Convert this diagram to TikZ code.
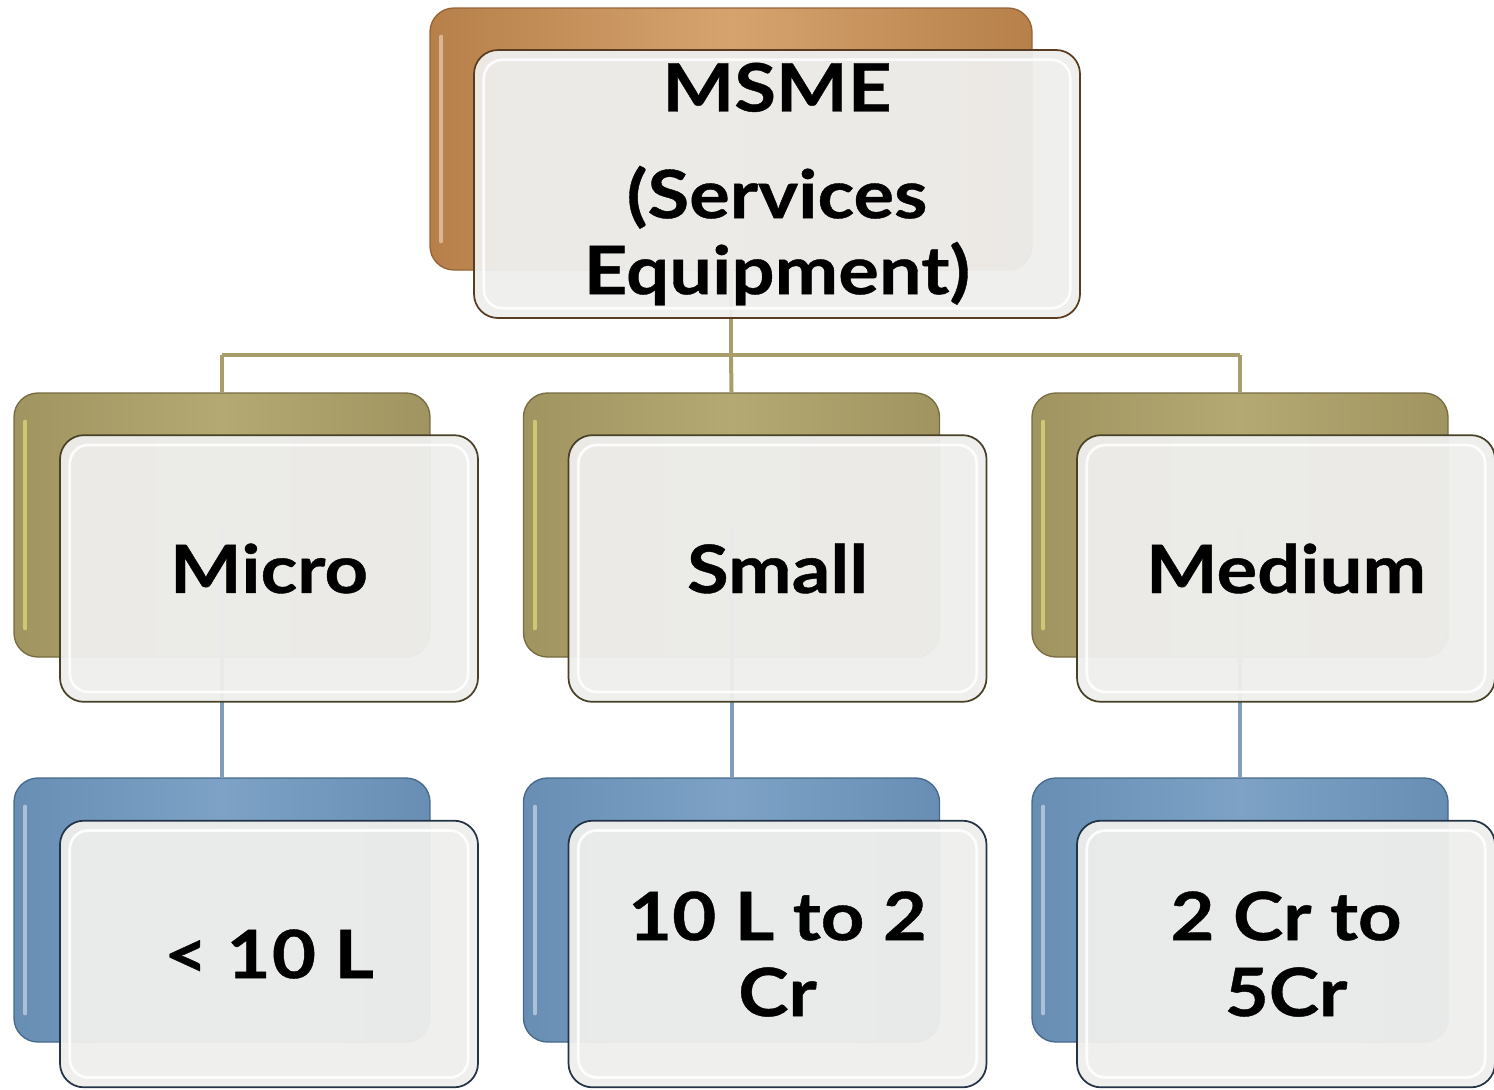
\documentclass[tikz,border=0pt]{standalone}
\usepackage{fontspec}
\setmainfont{Lato}[BoldFeatures={FakeStretch=1.14,FakeBold=0.6}]
\definecolor{brL}{RGB}{183,128,74}
\definecolor{brM}{RGB}{214,163,110}
\definecolor{brD}{RGB}{150,100,55}
\definecolor{olL}{RGB}{160,148,96}
\definecolor{olM}{RGB}{180,168,115}
\definecolor{olD}{RGB}{120,108,65}
\definecolor{blL}{RGB}{104,142,180}
\definecolor{blM}{RGB}{125,162,198}
\definecolor{blD}{RGB}{70,105,140}
\definecolor{olLine}{RGB}{168,158,108}
\definecolor{blLine}{RGB}{128,158,188}
\definecolor{frontFill}{RGB}{238,238,236}
\begin{document}
\begin{tikzpicture}[x=0.75pt,y=-0.75pt,
  backbox/.style={rectangle,rounded corners=18pt,line width=1pt,
     minimum width=312pt,minimum height=198pt,inner sep=0pt},
  brownback/.style={backbox,draw=brD,left color=brL,right color=brL,middle color=brM},
  oliveback/.style={backbox,draw=olD,left color=olL,right color=olL,middle color=olM},
  blueback/.style={backbox,draw=blD,left color=blL,right color=blL,middle color=blM},
  frontbox/.style={rectangle,rounded corners=18pt,line width=1.3pt,fill=frontFill,
     fill opacity=0.96,text opacity=1,minimum width=313.5pt,minimum height=200pt,
     inner sep=0pt,align=center,font=\fontsize{50}{57}\selectfont\bfseries},
  glint/.style={line width=3pt,line cap=round,opacity=0.6},
  inner/.style={draw=white,line width=2pt,rounded corners=14pt,opacity=0.9},
  olconn/.style={draw=olLine,line width=3pt},
  blconn/.style={draw=blLine,line width=3pt}]
\useasboundingbox (0,0) rectangle (1494,1089);

% back boxes
\node[brownback,minimum width=451.5pt,minimum height=196.5pt] (tb) at (731,139) {};
\node[oliveback] (mb1) at (222,525) {};
\node[oliveback] (mb2) at (731.5,525) {};
\node[oliveback] (mb3) at (1240,525) {};
\node[blueback] (bb1) at (222,910) {};
\node[blueback] (bb2) at (731.5,910) {};
\node[blueback] (bb3) at (1240,910) {};

% glints on back boxes
\foreach \n/\c in {tb/brM!40!white,mb1/olM!40!yellow!60!white,mb2/olM!40!yellow!60!white,mb3/olM!40!yellow!60!white,bb1/blM!30!white,bb2/blM!30!white,bb3/blM!30!white}{
  \draw[glint,draw=\c] ([xshift=9pt,yshift=-22pt]\n.north west) -- ([xshift=9pt,yshift=22pt]\n.south west);
}

% connectors
\coordinate (hub) at (731,355);
\coordinate (hl) at (222,355);
\coordinate (hr) at (1240,355);
\draw[olconn] (tb.south) -- (hub);
\draw[olconn] (hl) -- (hr);
\draw[olconn] (hl) -- (mb1.north);
\draw[olconn] (hub) -- (mb2.north);
\draw[olconn] (hr) -- (mb3.north);
\draw[blconn] (mb1.center) -- (bb1.north);
\draw[blconn] (mb2.center) -- (bb2.north);
\draw[blconn] (mb3.center) -- (bb3.north);

% front boxes
\node[frontbox,draw=brD!60!black,minimum width=454.5pt,minimum height=201pt] (tf) at (777,184)
  {MSME\\[23pt](Services\\Equipment)};
\node[frontbox,draw=olD!60!black] (mf1) at (269,568.5) {Micro};
\node[frontbox,draw=olD!60!black] (mf2) at (777.5,568.5) {Small};
\node[frontbox,draw=olD!60!black] (mf3) at (1286,568.5) {Medium};
\node[frontbox,draw=blD!50!black] (bf1) at (269,954) {< 1\kern1pt0 L};
\node[frontbox,draw=blD!50!black] (bf2) at (777.5,954) {10 L to 2\\Cr};
\node[frontbox,draw=blD!50!black] (bf3) at (1286,954) {2 Cr to\\5Cr};

% inner gloss rims
\foreach \n in {tf,mf1,mf2,mf3,bf1,bf2,bf3}{
  \draw[inner] ([xshift=8pt,yshift=-8pt]\n.north west) rectangle ([xshift=-8pt,yshift=8pt]\n.south east);
}
\end{tikzpicture}
\end{document}
